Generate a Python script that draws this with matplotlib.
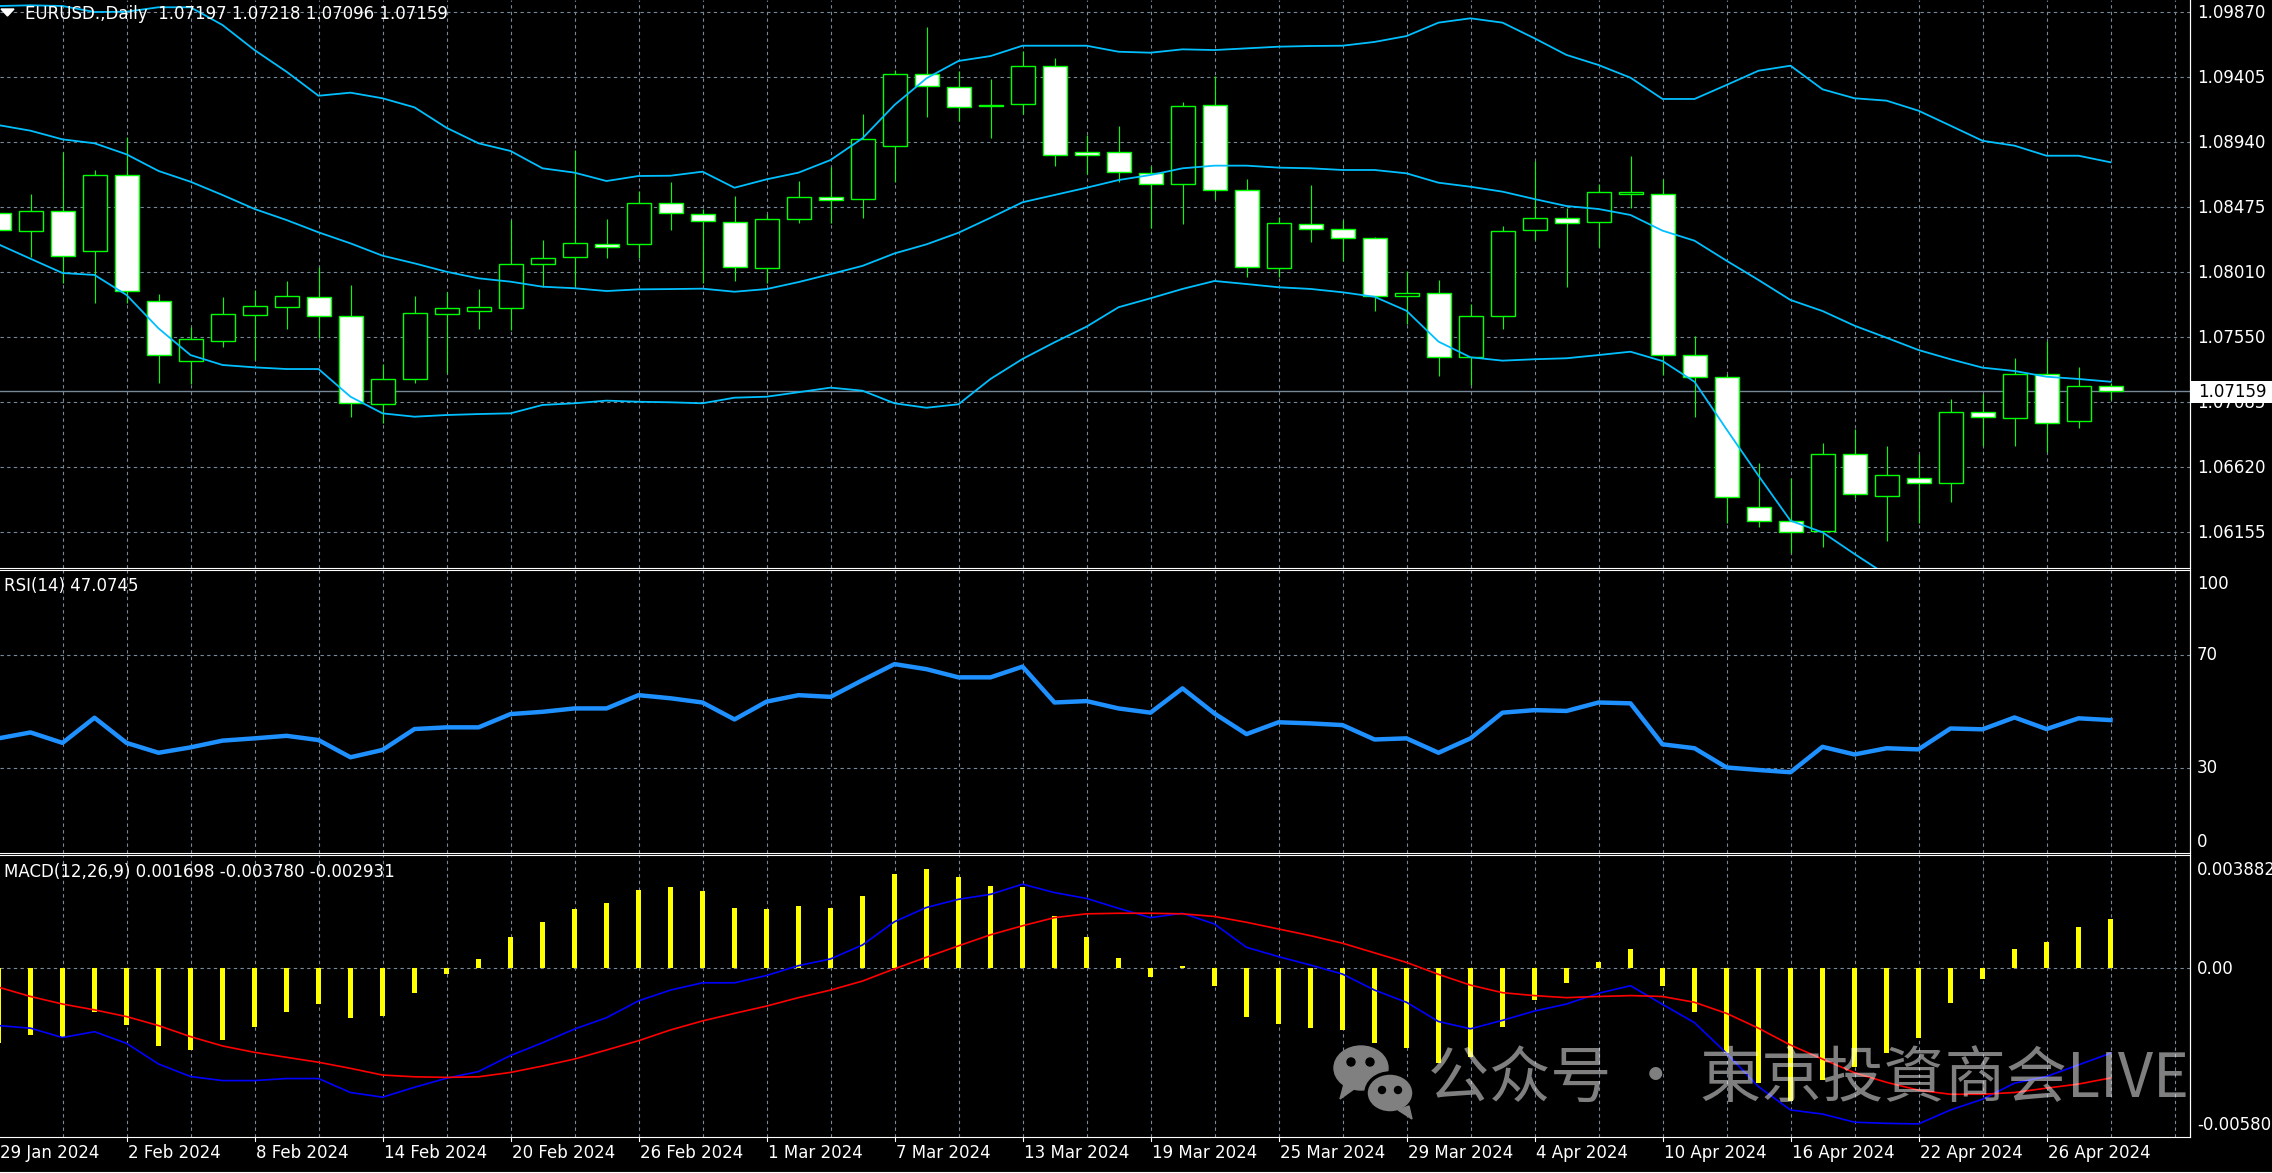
import numpy as np
import matplotlib.pyplot as plt
from matplotlib.patches import Rectangle, Ellipse, Polygon, Circle
from matplotlib.transforms import blended_transform_factory, offset_copy

# EURUSD daily bars, 29 Jan 2024 .. 30 Apr 2024 (bar index 0..66)
opens = [1.08436, 1.08303, 1.08446, 1.08160, 1.08704, 1.07807, 1.07378, 1.07521, 1.07702, 1.07764,
         1.07831, 1.07695, 1.07066, 1.07245, 1.07710, 1.07735, 1.07753, 1.08067, 1.08117, 1.08210,
         1.08210, 1.08503, 1.08425, 1.08368, 1.08039, 1.08389, 1.08547, 1.08532, 1.08916, 1.09426,
         1.09338, 1.09202, 1.09212, 1.09488, 1.08873, 1.08873, 1.08723, 1.08640, 1.09207, 1.08599,
         1.08043, 1.08353, 1.08318, 1.08253, 1.07840, 1.07860, 1.07402, 1.07697, 1.08313, 1.08397,
         1.08368, 1.08568, 1.08568, 1.07418, 1.07259, 1.06333, 1.06233, 1.06160, 1.06708, 1.06412,
         1.06536, 1.06501, 1.07013, 1.06966, 1.07281, 1.06947, 1.07197]
highs = [1.08470, 1.08570, 1.08869, 1.08742, 1.08981, 1.07855, 1.07617, 1.07831, 1.07883, 1.07948,
         1.08050, 1.07919, 1.07352, 1.07840, 1.07867, 1.07890, 1.08384, 1.08241, 1.08885, 1.08391,
         1.08594, 1.08654, 1.08461, 1.08555, 1.08425, 1.08663, 1.08766, 1.09142, 1.09457, 1.09763,
         1.09452, 1.09390, 1.09593, 1.09541, 1.08991, 1.09056, 1.08771, 1.09230, 1.09416, 1.08678,
         1.08408, 1.08634, 1.08384, 1.08260, 1.08021, 1.07955, 1.07783, 1.08342, 1.08807, 1.08468,
         1.08642, 1.08843, 1.08678, 1.07554, 1.07283, 1.06644, 1.06536, 1.06787, 1.06889, 1.06768,
         1.06710, 1.07104, 1.07138, 1.07395, 1.07521, 1.07330, 1.07218]
lows = [1.07970, 1.08122, 1.07936, 1.07788, 1.07792, 1.07220, 1.07209, 1.07478, 1.07382, 1.07604,
        1.07538, 1.06973, 1.06934, 1.07220, 1.07292, 1.07604, 1.07597, 1.07907, 1.07914, 1.08110,
        1.08110, 1.08313, 1.07936, 1.07950, 1.07936, 1.08365, 1.08365, 1.08401, 1.08658, 1.09123,
        1.09094, 1.08968, 1.09140, 1.08773, 1.08711, 1.08654, 1.08325, 1.08353, 1.08534, 1.07974,
        1.07979, 1.08229, 1.08093, 1.07733, 1.07638, 1.07268, 1.07204, 1.07604, 1.08242, 1.07903,
        1.08193, 1.08468, 1.07275, 1.06977, 1.06214, 1.06190, 1.05999, 1.06046, 1.06393, 1.06089,
        1.06218, 1.06369, 1.06770, 1.06770, 1.06727, 1.06894, 1.07096]
closes = [1.08313, 1.08449, 1.08124, 1.08704, 1.07876, 1.07416, 1.07531, 1.07710, 1.07767, 1.07840,
          1.07695, 1.07073, 1.07245, 1.07717, 1.07753, 1.07760, 1.08067, 1.08110, 1.08217, 1.08193,
          1.08503, 1.08432, 1.08377, 1.08046, 1.08389, 1.08547, 1.08527, 1.08961, 1.09426, 1.09343,
          1.09195, 1.09209, 1.09488, 1.08849, 1.08849, 1.08725, 1.08642, 1.09200, 1.08599, 1.08050,
          1.08361, 1.08318, 1.08253, 1.07840, 1.07860, 1.07402, 1.07697, 1.08306, 1.08397, 1.08361,
          1.08582, 1.08582, 1.07418, 1.07259, 1.06400, 1.06231, 1.06153, 1.06708, 1.06422, 1.06560,
          1.06501, 1.07013, 1.06973, 1.07281, 1.06930, 1.07199, 1.07159]

# Bollinger Bands (20, 2)
bb_upper = [1.09915, 1.09920, 1.09915, 1.09872, 1.09874, 1.09906, 1.09906, 1.09779, 1.09600, 1.09445,
            1.09273, 1.09295, 1.09255, 1.09190, 1.09044, 1.08933, 1.08878, 1.08754, 1.08723, 1.08663,
            1.08699, 1.08701, 1.08730, 1.08615, 1.08675, 1.08723, 1.08813, 1.08969, 1.09207, 1.09398,
            1.09522, 1.09557, 1.09631, 1.09631, 1.09631, 1.09588, 1.09581, 1.09605, 1.09600, 1.09612,
            1.09624, 1.09629, 1.09631, 1.09658, 1.09700, 1.09796, 1.09827, 1.09796, 1.09684, 1.09565,
            1.09493, 1.09402, 1.09250, 1.09250, 1.09350, 1.09452, 1.09488, 1.09319, 1.09255, 1.09238,
            1.09166, 1.09059, 1.08951, 1.08916, 1.08844, 1.08844, 1.08797]
bb_mid = [1.09063, 1.09023, 1.08961, 1.08933, 1.08854, 1.08735, 1.08658, 1.08563, 1.08463, 1.08384,
          1.08296, 1.08217, 1.08129, 1.08074, 1.08014, 1.07967, 1.07943, 1.07907, 1.07896, 1.07876,
          1.07888, 1.07890, 1.07893, 1.07871, 1.07890, 1.07940, 1.07997, 1.08056, 1.08145, 1.08210,
          1.08293, 1.08400, 1.08511, 1.08563, 1.08615, 1.08670, 1.08706, 1.08754, 1.08773, 1.08773,
          1.08759, 1.08754, 1.08742, 1.08742, 1.08718, 1.08651, 1.08622, 1.08587, 1.08534, 1.08484,
          1.08463, 1.08420, 1.08308, 1.08236, 1.08093, 1.07955, 1.07812, 1.07733, 1.07628, 1.07542,
          1.07454, 1.07388, 1.07328, 1.07304, 1.07263, 1.07247, 1.07227]
bb_lower = [1.08210, 1.08107, 1.08005, 1.07991, 1.07848, 1.07609, 1.07418, 1.07347, 1.07330, 1.07318,
            1.07318, 1.07120, 1.07001, 1.06977, 1.06989, 1.06996, 1.07001, 1.07061, 1.07073, 1.07092,
            1.07084, 1.07080, 1.07073, 1.07113, 1.07120, 1.07152, 1.07185, 1.07163, 1.07073, 1.07041,
            1.07066, 1.07247, 1.07390, 1.07509, 1.07621, 1.07760, 1.07824, 1.07891, 1.07948, 1.07926,
            1.07903, 1.07891, 1.07867, 1.07835, 1.07735, 1.07514, 1.07402, 1.07378, 1.07388, 1.07395,
            1.07418, 1.07442, 1.07375, 1.07227, 1.06887, 1.06555, 1.06233, 1.06150, 1.05995, 1.05846,
            1.05742, 1.05717, 1.05705, 1.05692, 1.05682, 1.05650, 1.05657]

# RSI(14)
rsi = [40.6, 42.7, 39.0, 47.9, 39.0, 35.5, 37.4, 39.8, 40.6, 41.5, 40.0, 33.9, 36.5, 43.9, 44.5, 44.5,
       49.2, 50.0, 51.2, 51.2, 55.9, 54.8, 53.3, 47.3, 53.6, 55.9, 55.3, 61.2, 66.9, 65.1, 62.2, 62.2,
       66.0, 53.3, 53.8, 51.2, 49.7, 58.3, 49.4, 42.1, 46.3, 45.9, 45.3, 40.2, 40.6, 35.5, 40.6, 49.7,
       50.6, 50.3, 53.3, 53.0, 38.5, 37.1, 30.3, 29.4, 28.6, 37.6, 34.9, 37.1, 36.7, 44.1, 43.8, 48.0,
       43.9, 47.7, 47.07]

# MACD(12,26,9), values in 1e-3
macd_hist = [-2.59, -2.30, -2.36, -1.53, -1.96, -2.68, -2.82, -2.47, -2.02, -1.51, -1.24, -1.71, -1.64,
             -0.85, -0.21, 0.31, 1.05, 1.58, 2.03, 2.23, 2.68, 2.78, 2.64, 2.06, 2.03, 2.13, 2.06, 2.47,
             3.23, 3.40, 3.13, 2.82, 2.78, 1.79, 1.05, 0.35, -0.30, 0.06, -0.61, -1.67, -1.92, -2.05,
             -2.13, -2.59, -2.74, -3.28, -3.07, -2.02, -1.10, -0.51, 0.20, 0.65, -0.61, -1.50, -2.91,
             -3.94, -4.56, -3.86, -3.39, -2.93, -2.39, -1.19, -0.37, 0.65, 0.89, 1.41, 1.698]
macd_main = [-1.98, -2.07, -2.39, -2.19, -2.59, -3.30, -3.73, -3.87, -3.87, -3.80, -3.80, -4.28, -4.44,
             -4.10, -3.79, -3.56, -3.01, -2.57, -2.10, -1.71, -1.13, -0.76, -0.51, -0.51, -0.26, 0.08,
             0.31, 0.79, 1.59, 2.08, 2.36, 2.53, 2.88, 2.59, 2.39, 2.05, 1.73, 1.88, 1.51, 0.71, 0.39,
             0.10, -0.21, -0.76, -1.18, -1.84, -2.09, -1.80, -1.48, -1.24, -0.87, -0.61, -1.25, -1.88,
             -2.93, -4.08, -4.88, -5.02, -5.30, -5.34, -5.36, -4.88, -4.51, -3.96, -3.73, -3.33, -2.931]
macd_signal = [-0.66, -0.98, -1.24, -1.44, -1.67, -1.98, -2.36, -2.68, -2.90, -3.07, -3.24, -3.45, -3.68,
               -3.74, -3.76, -3.74, -3.59, -3.37, -3.13, -2.82, -2.50, -2.13, -1.82, -1.56, -1.31, -1.02,
               -0.76, -0.45, -0.03, 0.37, 0.76, 1.14, 1.45, 1.73, 1.86, 1.88, 1.88, 1.86, 1.77, 1.57,
               1.34, 1.11, 0.85, 0.52, 0.19, -0.22, -0.59, -0.85, -0.95, -1.02, -0.98, -0.95, -0.98,
               -1.18, -1.56, -2.07, -2.65, -3.13, -3.60, -3.93, -4.20, -4.34, -4.34, -4.28, -4.13,
               -3.99, -3.780]

price_ticks = [1.09870, 1.09405, 1.08940, 1.08475, 1.08010, 1.07550, 1.07085, 1.06620, 1.06155]
price_range = (1.058982, 1.099580)
bid = 1.07159
rsi_levels = [30, 70]
macd_range = (-0.005809, 0.003882)

date_idx = [0, 4, 8, 12, 16, 20, 24, 28, 32, 36, 40, 44, 48, 52, 56, 60, 64]
date_labels = ['29 Jan 2024', '2 Feb 2024', '8 Feb 2024', '14 Feb 2024', '20 Feb 2024', '26 Feb 2024',
               '1 Mar 2024', '7 Mar 2024', '13 Mar 2024', '19 Mar 2024', '25 Mar 2024', '29 Mar 2024',
               '4 Apr 2024', '10 Apr 2024', '16 Apr 2024', '22 Apr 2024', '26 Apr 2024']

title = 'EURUSD.,Daily  1.07197 1.07218 1.07096 1.07159'
rsi_title = 'RSI(14) 47.0745'
macd_title = 'MACD(12,26,9) 0.001698 -0.003780 -0.002931'
watermark = '公众号 · 東京投資商会LIVE'

W, H = 2272, 1173
RIGHT = 2190          # x pixel of price axis line
BAR_PX = 32.0         # pixels per bar
GRID = '#778899'
FS = 12


def style(ax, top_spine=True):
    ax.set_facecolor('black')
    ax.spines['left'].set_visible(False)
    ax.spines['top'].set_visible(top_spine)
    for s in ['top', 'bottom', 'right']:
        ax.spines[s].set_color('white')
        ax.spines[s].set_linewidth(0.8)
    ax.set_xlim(1.5 / BAR_PX, (RIGHT + 1.5) / BAR_PX)
    ax.set_xticks(np.arange(2, 70, 2))
    ax.grid(True, color=GRID, linestyle=(0, (3, 3)), linewidth=0.8)
    ax.tick_params(length=0, labelbottom=False, labelleft=False)
    ax.set_axisbelow(True)


def right_label(ax, fig, y, text, dy=0, **kw):
    tr = blended_transform_factory(ax.transAxes, ax.transData)
    tr = offset_copy(tr, fig=fig, x=7, y=dy, units='dots')
    ax.text(1.0, y, text, transform=tr, color='white', fontsize=FS, va='center',
            ha='left', clip_on=False, **kw)


def main():
    fig = plt.figure(figsize=(W / 100, H / 100), dpi=100, facecolor='black')

    def px_axes(top, bottom):
        return fig.add_axes([0, 1 - bottom / H, RIGHT / W, (bottom - top) / H])

    ax_p = px_axes(0, 567.5)
    ax_r = px_axes(569.5, 853)
    ax_m = px_axes(855, 1137)

    xs = np.arange(len(opens))
    o = np.array(opens)
    c = np.array(closes)

    # price panel
    style(ax_p, top_spine=False)
    ax_p.set_ylim(*price_range)
    ax_p.set_yticks(price_ticks)
    ax_p.axhline(bid, color=GRID, lw=1.0, zorder=1)
    ax_p.vlines(xs, lows, highs, color='#00ff00', lw=0.8, zorder=2)
    bull = c >= o
    ax_p.bar(xs, np.abs(c - o), width=0.75, bottom=np.minimum(o, c),
             color=np.where(bull, 'black', 'white'), edgecolor='#00ff00', linewidth=1.0, zorder=3)
    for band in (bb_upper, bb_mid, bb_lower):
        ax_p.plot(xs, band, color='#00bfff', lw=1.3, zorder=4)
    for t in price_ticks:
        right_label(ax_p, fig, t, f'{t:.5f}', dy=-1)

    # RSI panel
    style(ax_r)
    ax_r.set_ylim(0, 100.4)
    ax_r.set_yticks(rsi_levels)
    ax_r.plot(xs, rsi, color='#1e90ff', lw=3.2, zorder=3)
    right_label(ax_r, fig, 100, '100', dy=-13)
    right_label(ax_r, fig, 70, '70')
    right_label(ax_r, fig, 30, '30')
    right_label(ax_r, fig, 0, '0', dy=11)

    # MACD panel
    style(ax_m)
    ax_m.set_ylim(*macd_range)
    ax_m.set_yticks([0])
    ax_m.bar(xs, np.array(macd_hist) * 1e-3, width=0.17, color='#ffff00', zorder=2)
    ax_m.plot(xs, np.array(macd_main) * 1e-3, color='#0000ff', lw=1.2, zorder=3)
    ax_m.plot(xs, np.array(macd_signal) * 1e-3, color='#ff0000', lw=1.2, zorder=3)
    right_label(ax_m, fig, macd_range[1], '0.003882', dy=-15)
    right_label(ax_m, fig, 0, '0.00', dy=-1)
    right_label(ax_m, fig, macd_range[0], '-0.005809', dy=12)

    # date axis
    trd = blended_transform_factory(ax_m.transData, ax_m.transAxes)
    panel_h = 1137 - 855
    for i, lab in zip(date_idx, date_labels):
        ax_m.plot([i, i], [0, -4 / panel_h], color='white', lw=0.8, transform=trd, clip_on=False)
        ax_m.text(i, -(1153 - 1137) / panel_h, lab, transform=offset_copy(trd, fig=fig, x=2, units='dots'),
                  color='white', fontsize=FS, ha='left', va='center', clip_on=False)

    # overlay in pixel coordinates
    ov = fig.add_axes([0, 0, 1, 1], zorder=10)
    ov.set_xlim(0, W)
    ov.set_ylim(H, 0)
    ov.axis('off')
    ov.patch.set_alpha(0)
    ov.plot([RIGHT, RIGHT], [0, 1137], color='white', lw=0.8)
    ov.plot([0, W], [1171.5, 1171.5], color='white', lw=0.8)

    ov.add_patch(Polygon([[1, 9], [14, 9], [7.5, 16]], closed=True, color='white'))
    ov.text(25, 14, title, color='white', fontsize=FS, va='center', ha='left')
    ov.text(4, 586, rsi_title, color='white', fontsize=FS, va='center', ha='left')
    ov.text(4, 872, macd_title, color='white', fontsize=FS, va='center', ha='left')

    # current price box
    ov.add_patch(Rectangle((RIGHT + 1, 381), W - RIGHT, 22, facecolor='white', edgecolor='none'))
    ov.text(RIGHT + 8, 392, f'{bid:.5f}', color='black', fontsize=FS, va='center', ha='left')

    # watermark (WeChat icon + text)
    g = '#808080'
    ov.add_patch(Ellipse((1361, 1068), 54, 44, color=g))
    ov.add_patch(Polygon([[1344, 1084], [1354, 1089], [1340, 1099]], closed=True, color=g))
    ov.add_patch(Ellipse((1390, 1093), 48, 40, facecolor=g, edgecolor='black', lw=2.5))
    ov.add_patch(Polygon([[1398, 1110], [1409, 1106], [1412, 1119]], closed=True, color=g))
    for ex, ey, r in [(1351, 1062, 4), (1370, 1062, 4), (1382, 1090, 3.5), (1398, 1090, 3.5)]:
        ov.add_patch(Circle((ex, ey), r, color='black'))
    ov.text(1428, 1080, watermark, color='white', alpha=0.5, fontsize=44,
            family=['Noto Sans CJK SC', 'DejaVu Sans'], va='center', ha='left')

    fig.savefig('out.png', dpi=100, facecolor='black')


if __name__ == '__main__':
    main()
